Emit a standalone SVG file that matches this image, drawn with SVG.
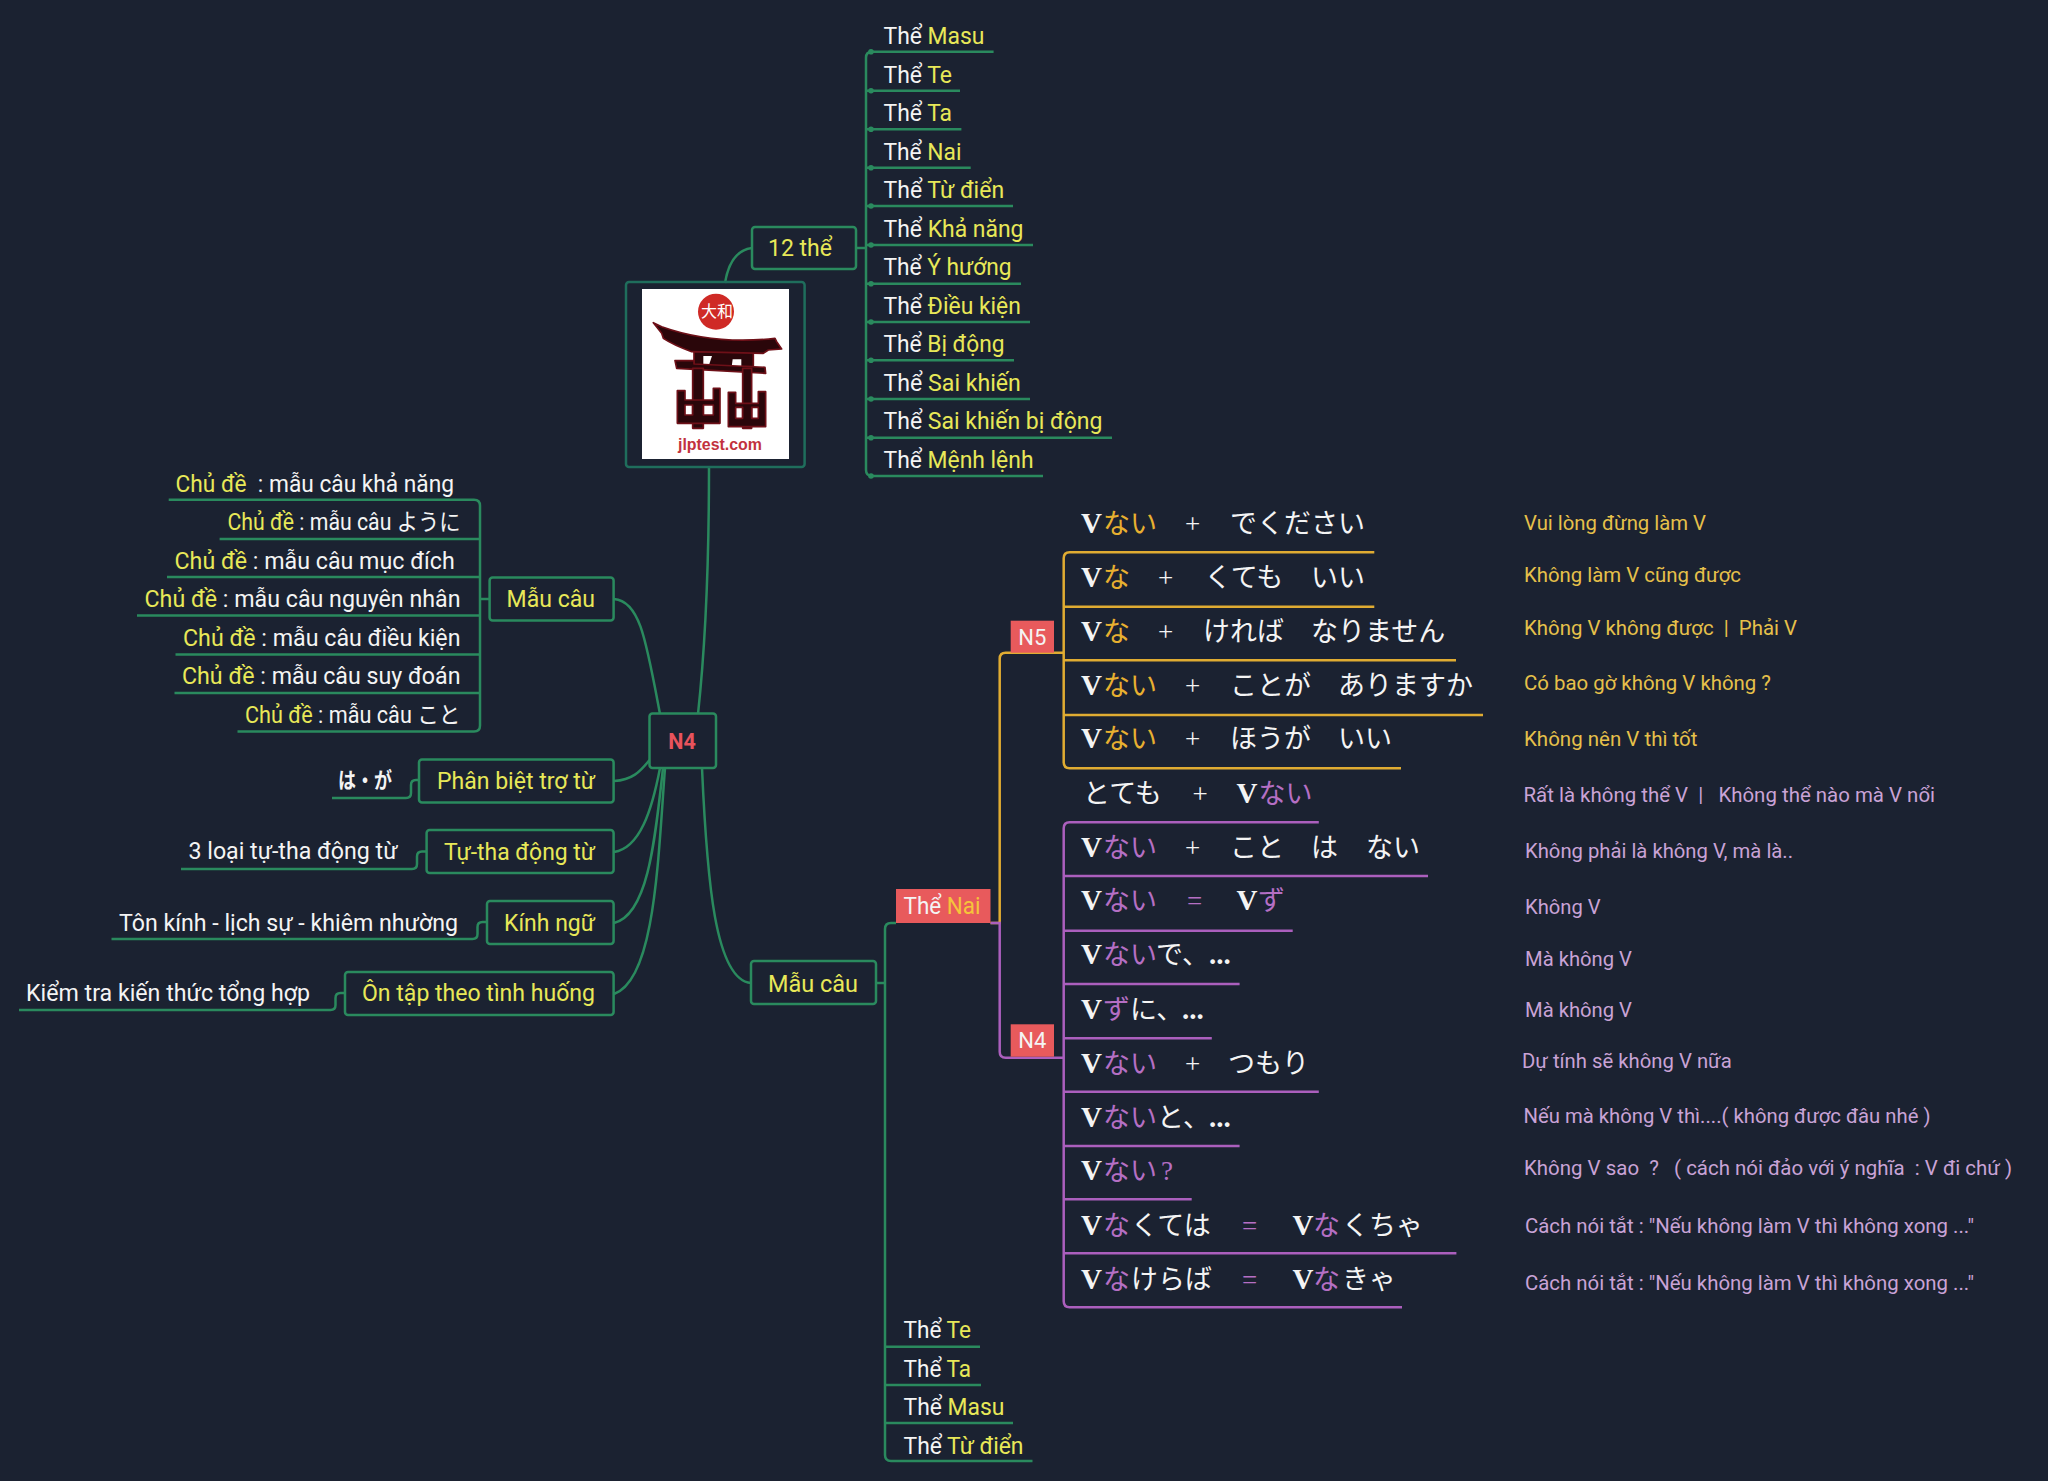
<svg xmlns="http://www.w3.org/2000/svg" width="2048" height="1481" viewBox="0 0 2048 1481">
<style>
text{white-space:pre}
.t{font-family:Roboto,"Noto Sans","Noto Sans CJK JP",sans-serif;font-size:23px;fill:#f4f4f4}
.y{fill:#e8e858}
.o{fill:#f5c43a}
.s{font-family:Roboto,"Noto Sans",sans-serif;font-size:20px}
.so{fill:#e6c04a}
.sp{fill:#c9a3d6}
.j{font-family:"Liberation Serif","Noto Sans CJK JP",serif;font-size:27px;fill:#f4f4f4}
.jy{fill:#e8b030}
.jp{fill:#b56fc4}
.v{font-weight:bold;font-size:29px}
.box{fill:#1b2231;stroke:#2a8a5e;stroke-width:2.5}
.red{fill:#e85a5c}
.g{fill:none;stroke:#2a8a5e;stroke-width:2.5}
.go{fill:none;stroke:#e0ac32;stroke-width:2.5}
.gp{fill:none;stroke:#ab5fbd;stroke-width:2.5}
.dot{fill:#2a8a5e}
.k{fill:#2a060a;stroke:#6e1018;stroke-width:5;stroke-linejoin:round}
</style>
<rect width="2048" height="1481" fill="#1b2231"/>

<g id="connectors">
<path class="g" d="M752 248C735 250 728 265 725 283"/>
<path class="g" d="M709 467C709 560 706 640 698 714"/>
<path class="g" d="M856 248H866"/>
<path class="g" d="M993.6 51.7H872Q866 51.7 866 57.7V470Q866 476 872 476H1043"/>
<path class="g" d="M866 90.7H960M866 129.3H961.4M866 167.7H970.7M866 206H1013M866 245H1033M866 283.7H1021M866 322H1030M866 360.3H1014M866 399H1030M866 437.7H1112"/>
<g class="dot"><circle cx="871" cy="51.7" r="2.8"/><circle cx="871" cy="90.7" r="2.8"/><circle cx="871" cy="129.3" r="2.8"/><circle cx="871" cy="167.7" r="2.8"/><circle cx="871" cy="206" r="2.8"/><circle cx="871" cy="245" r="2.8"/><circle cx="871" cy="283.7" r="2.8"/><circle cx="871" cy="322" r="2.8"/><circle cx="871" cy="360.3" r="2.8"/><circle cx="871" cy="399" r="2.8"/><circle cx="871" cy="437.7" r="2.8"/><circle cx="871" cy="476" r="2.8"/></g>
<path class="g" d="M614 599C640 601 646 640 660 714"/>
<path class="g" d="M614 781C632 780 640 772 649.5 760"/>
<path class="g" d="M614 852C640 848 652 810 660 768"/>
<path class="g" d="M614 923C648 915 655 840 663 768"/>
<path class="g" d="M614 994C655 980 658 860 665 768"/>
<path class="g" d="M702 768C707 880 715 980 751 983"/>
<path class="g" d="M489.6 599H480"/>
<path class="g" d="M168.7 499.8H474Q480 499.8 480 505.8V725.6Q480 731.6 474 731.6H237.5"/>
<path class="g" d="M219.6 539H480M167 577H480M137 615.5H480M175.5 654.6H480M174.5 693H480"/>
<path class="g" d="M332 798H406Q411 798 411 793V785Q411 780 416 780H419"/>
<path class="g" d="M181 869H412Q417 869 417 864V856.5Q417 851.5 422 851.5H426.6"/>
<path class="g" d="M111.5 939H472.5Q477.5 939 477.5 934V927Q477.5 922 482.5 922H487"/>
<path class="g" d="M19 1010H330.5Q335.5 1010 335.5 1005V998Q335.5 993 340.5 993H345"/>
<path class="g" d="M876 983H885"/>
<path class="g" d="M896 923H891Q885 923 885 929V1455Q885 1461 891 1461H1032.5"/>
<path class="g" d="M885 1346.7H980M885 1385H981M885 1423H1013"/>
<path class="go" d="M990.5 923H999.7V658.7Q999.7 652.7 1005.7 652.7H1063.7"/>
<path class="gp" d="M990.5 923H999.7V1051.7Q999.7 1057.7 1005.7 1057.7H1063.7"/>
<path class="go" d="M1374.3 552.3H1069.7Q1063.7 552.3 1063.7 558.3V762.3Q1063.7 768.3 1069.7 768.3H1401"/>
<path class="go" d="M1063.7 606.7H1374.3M1063.7 660.3H1456M1063.7 715H1483"/>
<path class="gp" d="M1318.8 822.3H1069.7Q1063.7 822.3 1063.7 828.3V1301.3Q1063.7 1307.3 1069.7 1307.3H1402"/>
<path class="gp" d="M1063.7 876H1428M1063.7 930.7H1292.7M1063.7 984H1239.6M1063.7 1038.3H1211.8M1063.7 1091.7H1318.8M1063.7 1146H1239.6M1063.7 1199.3H1191.7M1063.7 1253.3H1456.4"/>
</g>

<g id="root-logo">
<rect x="626" y="282" width="178.600" height="185" rx="3" fill="none" stroke="#1f6e5c" stroke-width="2.5"/>
<rect x="642" y="289" width="147" height="170" fill="#fff"/>
<g transform="translate(620 270) scale(.3333)">
<circle cx="288" cy="125" r="54" fill="#cf2a26"/>
<path class="k" d="M222 245H400V290H222Z"/>
<path fill="#fff" d="M250 258H276L268 282H250ZM338 268H364V290H335Z"/>
<path class="k" d="M100 158L125 170Q280 225 465 205L470 215L485 237L445 240L430 250L215 245Q160 225 130 205L125 190Z"/>
<path class="k" d="M165 272H222V282L435 292L437 310L170 295Z"/>
<path class="k" d="M218 295H250V475H218ZM368 295H395V475H368Z"/>
<path class="k" d="M172 362H195V390H280V355H300V460H172ZM195 405V435H218V405ZM250 405V435H280V405Z"/>
<path class="k" d="M325 367H347V400H415V365H437V470H325ZM347 412V445H368V412ZM395 412V445H415V412Z"/>
</g>
<text x="717" y="317" text-anchor="middle" font-family="'Noto Sans CJK JP',sans-serif" font-size="16" fill="#fff">大和</text>
<text x="720" y="450" text-anchor="middle" font-family="'Liberation Sans',sans-serif" font-weight="bold" font-size="17" fill="#c2323e" textLength="84" lengthAdjust="spacingAndGlyphs">jlptest.com</text>
</g>

<g id="n-12the"><rect class="box" x="752" y="227" width="104" height="42" rx="3"/><text class="t y" x="768" y="256" textLength="64" lengthAdjust="spacingAndGlyphs">12 thể</text></g>

<g id="the-list">
<text class="t" x="883.500" y="44" textLength="101" lengthAdjust="spacingAndGlyphs">Thể <tspan class="y">Masu</tspan></text>
<text class="t" x="883.500" y="82.500" textLength="68.500" lengthAdjust="spacingAndGlyphs">Thể <tspan class="y">Te</tspan></text>
<text class="t" x="883.500" y="121" textLength="68.500" lengthAdjust="spacingAndGlyphs">Thể <tspan class="y">Ta</tspan></text>
<text class="t" x="883.500" y="160" textLength="78" lengthAdjust="spacingAndGlyphs">Thể <tspan class="y">Nai</tspan></text>
<text class="t" x="883.500" y="198" textLength="120.600" lengthAdjust="spacingAndGlyphs">Thể <tspan class="y">Từ điển</tspan></text>
<text class="t" x="883.500" y="236.500" textLength="140" lengthAdjust="spacingAndGlyphs">Thể <tspan class="y">Khả năng</tspan></text>
<text class="t" x="883.500" y="275" textLength="128" lengthAdjust="spacingAndGlyphs">Thể <tspan class="y">Ý hướng</tspan></text>
<text class="t" x="883.500" y="314" textLength="137.400" lengthAdjust="spacingAndGlyphs">Thể <tspan class="y">Điều kiện</tspan></text>
<text class="t" x="883.500" y="352" textLength="121" lengthAdjust="spacingAndGlyphs">Thể <tspan class="y">Bị động</tspan></text>
<text class="t" x="883.500" y="390.500" textLength="137.400" lengthAdjust="spacingAndGlyphs">Thể <tspan class="y">Sai khiến</tspan></text>
<text class="t" x="883.500" y="429" textLength="219" lengthAdjust="spacingAndGlyphs">Thể <tspan class="y">Sai khiến bị động</tspan></text>
<text class="t" x="883.500" y="468" textLength="150" lengthAdjust="spacingAndGlyphs">Thể <tspan class="y">Mệnh lệnh</tspan></text>
</g>

<g id="n-n4"><rect class="box" x="649.500" y="713.600" width="66.500" height="54.400" rx="3"/><text x="682" y="748.500" text-anchor="middle" font-family="Roboto,sans-serif" font-weight="bold" font-size="21.500" fill="#e8535c">N4</text></g>

<g id="n-maucau-left"><rect class="box" x="489.600" y="577.600" width="124" height="43" rx="3"/><text class="t y" x="506.500" y="607" textLength="88.500" lengthAdjust="spacingAndGlyphs">Mẫu câu</text></g>
<g id="n-phanbiet"><rect class="box" x="419" y="759.600" width="194.600" height="43" rx="3"/><text class="t y" x="437" y="788.500" textLength="158" lengthAdjust="spacingAndGlyphs">Phân biệt trợ từ</text></g>
<g id="n-tutha"><rect class="box" x="426.600" y="830" width="187" height="43" rx="3"/><text class="t y" x="444" y="859.500" textLength="151" lengthAdjust="spacingAndGlyphs">Tự-tha động từ</text></g>
<g id="n-kinhngu"><rect class="box" x="487" y="901" width="126.600" height="43" rx="3"/><text class="t y" x="504" y="930.500" textLength="91" lengthAdjust="spacingAndGlyphs">Kính ngữ</text></g>
<g id="n-ontap"><rect class="box" x="345" y="972" width="268.600" height="43" rx="3"/><text class="t y" x="362" y="1001" textLength="233" lengthAdjust="spacingAndGlyphs">Ôn tập theo tình huống</text></g>

<g id="chude-list">
<text class="t" x="175.500" y="491.500" textLength="278.500" lengthAdjust="spacingAndGlyphs"><tspan class="y">Chủ đề</tspan>  : mẫu câu khả năng</text>
<text class="t" x="227.500" y="530" textLength="233" lengthAdjust="spacingAndGlyphs"><tspan class="y">Chủ đề</tspan> : mẫu câu ように</text>
<text class="t" x="174.500" y="569" textLength="280.200" lengthAdjust="spacingAndGlyphs"><tspan class="y">Chủ đề</tspan> : mẫu câu mục đích</text>
<text class="t" x="144.500" y="607" textLength="316" lengthAdjust="spacingAndGlyphs"><tspan class="y">Chủ đề</tspan> : mẫu câu nguyên nhân</text>
<text class="t" x="183" y="646" textLength="277.500" lengthAdjust="spacingAndGlyphs"><tspan class="y">Chủ đề</tspan> : mẫu câu điều kiện</text>
<text class="t" x="182" y="684" textLength="278.500" lengthAdjust="spacingAndGlyphs"><tspan class="y">Chủ đề</tspan> : mẫu câu suy đoán</text>
<text class="t" x="245" y="723" textLength="215.500" lengthAdjust="spacingAndGlyphs"><tspan class="y">Chủ đề</tspan> : mẫu câu こと</text>
</g>

<g id="left-leaves">
<text x="338" y="788" font-family="'Noto Sans CJK JP',sans-serif" font-weight="bold" font-size="22" fill="#f4f4f4" textLength="54" lengthAdjust="spacingAndGlyphs">は・が</text>
<text class="t" x="188.500" y="859" textLength="209" lengthAdjust="spacingAndGlyphs">3 loại tự-tha động từ</text>
<text class="t" x="119" y="930.500" textLength="339" lengthAdjust="spacingAndGlyphs">Tôn kính - lịch sự - khiêm nhường</text>
<text class="t" x="26" y="1001" textLength="284" lengthAdjust="spacingAndGlyphs">Kiểm tra kiến thức tổng hợp</text>
</g>

<g id="n-maucau-right"><rect class="box" x="751" y="961" width="125" height="43" rx="3"/><text class="t y" x="768" y="992" textLength="90" lengthAdjust="spacingAndGlyphs">Mẫu câu</text></g>
<g id="n-thenai"><rect class="red" x="896" y="889" width="94.500" height="34"/><text class="t" x="903.500" y="914" textLength="77" lengthAdjust="spacingAndGlyphs">Thể <tspan class="o">Nai</tspan></text></g>
<g id="n-n5"><rect class="red" x="1010.700" y="620.700" width="43.300" height="32"/><text class="t" x="1032.400" y="644.500" text-anchor="middle" style="font-size:22px">N5</text></g>
<g id="n-n4b"><rect class="red" x="1010.700" y="1024.300" width="43.300" height="32.400"/><text class="t" x="1032.400" y="1048" text-anchor="middle" style="font-size:22px">N4</text></g>

<g id="lower-list">
<text class="t" x="903.500" y="1337.500" textLength="67.500" lengthAdjust="spacingAndGlyphs">Thể <tspan class="y">Te</tspan></text>
<text class="t" x="903.500" y="1376.500" textLength="67.500" lengthAdjust="spacingAndGlyphs">Thể <tspan class="y">Ta</tspan></text>
<text class="t" x="903.500" y="1415" textLength="100.800" lengthAdjust="spacingAndGlyphs">Thể <tspan class="y">Masu</tspan></text>
<text class="t" x="903.500" y="1454" textLength="120" lengthAdjust="spacingAndGlyphs">Thể <tspan class="y">Từ điển</tspan></text>
</g>

<g id="n5-patterns">
<text class="j" y="533"><tspan class="v" x="1081">V</tspan><tspan class="jy" x="1103">ない</tspan><tspan x="1185">+</tspan><tspan x="1230">でください</tspan></text>
<text class="j" y="587"><tspan class="v" x="1081">V</tspan><tspan class="jy" x="1103">な</tspan><tspan x="1158">+</tspan><tspan x="1204.500">くても</tspan><tspan x="1311">いい</tspan></text>
<text class="j" y="640.500"><tspan class="v" x="1081">V</tspan><tspan class="jy" x="1103">な</tspan><tspan x="1158">+</tspan><tspan x="1203">ければ</tspan><tspan x="1311">なりません</tspan></text>
<text class="j" y="694.500"><tspan class="v" x="1081">V</tspan><tspan class="jy" x="1103">ない</tspan><tspan x="1185">+</tspan><tspan x="1230">ことが</tspan><tspan x="1338">ありますか</tspan></text>
<text class="j" y="748"><tspan class="v" x="1081">V</tspan><tspan class="jy" x="1103">ない</tspan><tspan x="1185">+</tspan><tspan x="1230">ほうが</tspan><tspan x="1338">いい</tspan></text>
</g>

<g id="n4-patterns">
<text class="j" y="803"><tspan x="1083">とても</tspan><tspan x="1192.500">+</tspan><tspan class="v" x="1236.500">V</tspan><tspan class="jp" x="1258.500">ない</tspan></text>
<text class="j" y="857"><tspan class="v" x="1081">V</tspan><tspan class="jp" x="1103">ない</tspan><tspan x="1185">+</tspan><tspan x="1230">こと</tspan><tspan x="1311">は</tspan><tspan x="1366">ない</tspan></text>
<text class="j" y="910"><tspan class="v" x="1081">V</tspan><tspan class="jp" x="1103">ない</tspan><tspan class="jp" x="1187">=</tspan><tspan class="v" x="1236.500">V</tspan><tspan class="jp" x="1258">ず</tspan></text>
<text class="j" y="964"><tspan class="v" x="1081">V</tspan><tspan class="jp" x="1103">ない</tspan><tspan x="1156">で、</tspan><tspan class="v" x="1209">...</tspan></text>
<text class="j" y="1019"><tspan class="v" x="1081">V</tspan><tspan class="jp" x="1103">ず</tspan><tspan x="1130">に、</tspan><tspan class="v" x="1182">...</tspan></text>
<text class="j" y="1073"><tspan class="v" x="1081">V</tspan><tspan class="jp" x="1103">ない</tspan><tspan x="1185">+</tspan><tspan x="1228">つもり</tspan></text>
<text class="j" y="1127"><tspan class="v" x="1081">V</tspan><tspan class="jp" x="1103">ない</tspan><tspan x="1157">と、</tspan><tspan class="v" x="1209">...</tspan></text>
<text class="j" y="1180"><tspan class="v" x="1081">V</tspan><tspan class="jp" x="1103">ない</tspan><tspan class="jp" x="1161">?</tspan></text>
<text class="j" y="1235"><tspan class="v" x="1081">V</tspan><tspan class="jp" x="1103">な</tspan><tspan x="1131">くては</tspan><tspan class="jp" x="1242">=</tspan><tspan class="v" x="1292.500">V</tspan><tspan class="jp" x="1313">な</tspan><tspan x="1342">くちゃ</tspan></text>
<text class="j" y="1289"><tspan class="v" x="1081">V</tspan><tspan class="jp" x="1103">な</tspan><tspan x="1131">けらば</tspan><tspan class="jp" x="1242">=</tspan><tspan class="v" x="1292.500">V</tspan><tspan class="jp" x="1313">な</tspan><tspan x="1342">きゃ</tspan></text>
</g>

<g id="translations">
<text class="s so" x="1524" y="530" textLength="182" lengthAdjust="spacingAndGlyphs">Vui lòng đừng làm V</text>
<text class="s so" x="1524" y="582.300" textLength="217" lengthAdjust="spacingAndGlyphs">Không làm V cũng được</text>
<text class="s so" x="1524" y="635" textLength="273" lengthAdjust="spacingAndGlyphs">Không V không được  |  Phải V</text>
<text class="s so" x="1524" y="690" textLength="247" lengthAdjust="spacingAndGlyphs">Có bao gờ không V không ?</text>
<text class="s so" x="1524" y="746" textLength="173.500" lengthAdjust="spacingAndGlyphs">Không nên V thì tốt</text>
<text class="s sp" x="1523.500" y="802" textLength="411.500" lengthAdjust="spacingAndGlyphs">Rất là không thể V  |   Không thể nào mà V nổi</text>
<text class="s sp" x="1525" y="857.700" textLength="268" lengthAdjust="spacingAndGlyphs">Không phải là không V, mà là..</text>
<text class="s sp" x="1525" y="914" textLength="75.700" lengthAdjust="spacingAndGlyphs">Không V</text>
<text class="s sp" x="1525" y="966" textLength="107" lengthAdjust="spacingAndGlyphs">Mà không V</text>
<text class="s sp" x="1525" y="1017.300" textLength="107" lengthAdjust="spacingAndGlyphs">Mà không V</text>
<text class="s sp" x="1522" y="1068" textLength="209.700" lengthAdjust="spacingAndGlyphs">Dự tính sẽ không V nữa</text>
<text class="s sp" x="1523.500" y="1123" textLength="407" lengthAdjust="spacingAndGlyphs">Nếu mà không V thì....( không được đâu nhé )</text>
<text class="s sp" x="1524" y="1175" textLength="488" lengthAdjust="spacingAndGlyphs">Không V sao  ?   ( cách nói đảo với ý nghĩa  : V đi chứ )</text>
<text class="s sp" x="1525" y="1233" textLength="449" lengthAdjust="spacingAndGlyphs">Cách nói tắt : "Nếu không làm V thì không xong ..."</text>
<text class="s sp" x="1525" y="1290" textLength="449" lengthAdjust="spacingAndGlyphs">Cách nói tắt : "Nếu không làm V thì không xong ..."</text>
</g>
</svg>
